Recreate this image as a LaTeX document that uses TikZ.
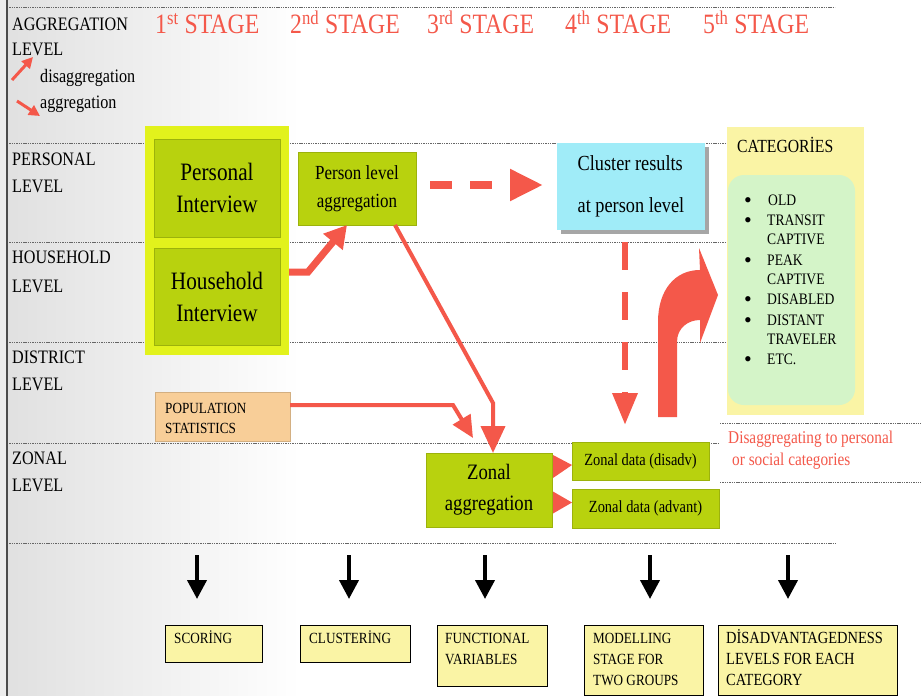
\documentclass[tikz,border=0pt]{standalone}
\usepackage{fontspec}
\usepackage{graphicx}
\setmainfont{Liberation Serif}
\usetikzlibrary{arrows.meta,calc}

\definecolor{redarrow}{RGB}{244,88,74}
\definecolor{limeouter}{RGB}{226,242,28}
\definecolor{limeinner}{RGB}{184,210,14}
\definecolor{skyfill}{RGB}{160,236,248}
\definecolor{peach}{RGB}{248,206,152}
\definecolor{paleyellow}{RGB}{250,244,165}
\definecolor{mintfill}{RGB}{212,244,200}

\newcommand\fsz[2]{\fontsize{#1}{#2}\selectfont}
% narrow setting of the serif face
\newcommand\cnd[1]{\scalebox{0.85}[1]{#1}}

\begin{document}
\begin{tikzpicture}[x=1pt,y=-1pt,
  gridline/.style={draw=black!60, line width=0.9pt, dash pattern=on 1.4pt off 0.9pt},
  panel/.style={inner sep=0pt, outer sep=0pt, align=center},
  lbl/.style={anchor=base west, inner sep=0pt, font=\fsz{19}{22}},
  stagehead/.style={anchor=base west, inner sep=0pt, text=redarrow, font=\fsz{28}{30}},
  catitem/.style={anchor=base west, inner sep=0pt, font=\fsz{16}{20}},
  smalltxt/.style={anchor=base west, inner sep=0pt, font=\fsz{15.5}{20}},
  redflow/.style={draw=redarrow, line join=miter},
  blackdown/.style={draw=black, line width=4pt, -{Triangle[length=19pt,width=19pt]}},
  lowbox/.style={panel, fill=paleyellow, draw=black, line width=1pt},
]
\useasboundingbox (0,0) rectangle (921,696);

% paper
\fill[white] (0,0) rectangle (921,696);
\fill[black!7] (0,0) rectangle (7,696);
\shade[left color=black!12, right color=white] (7,0) rectangle (300,696);

% level separators
\draw[gridline] (7,7) -- (835,7);
\draw[gridline] (7,143) -- (727,143);
\draw[gridline] (7,242) -- (727,242);
\draw[gridline] (7,342) -- (727,342);
\draw[gridline] (7,443) -- (718,443);
\draw[gridline] (720,423) -- (921,423);
\draw[gridline] (720,482) -- (921,482);
\draw[gridline] (7,543) -- (836,543);
\draw[black!70, line width=1.6pt] (7,0) -- (7,696);

% stage headings
\node[stagehead] (st1) at (155,34) {\cnd{1\textsuperscript{st} STAGE}};
\node[stagehead] (st2) at (290,34) {\cnd{2\textsuperscript{nd} STAGE}};
\node[stagehead] (st3) at (427,34) {\cnd{3\textsuperscript{rd} STAGE}};
\node[stagehead] (st4) at (565,34) {\cnd{4\textsuperscript{th} STAGE}};
\node[stagehead] (st5) at (703,34) {\cnd{5\textsuperscript{th} STAGE}};

% level labels
\node[lbl] (lagg) at (12,30) {\cnd{AGGREGATION}};
\node[lbl] (llev) at (12,55) {\cnd{LEVEL}};
\node[lbl, font=\fsz{19}{20}] (ldis) at (40,82) {\cnd{disaggregation}};
\node[lbl, font=\fsz{19}{20}] (lagr) at (40,108) {\cnd{aggregation}};
\coordinate (k1a) at (12,80);  \coordinate (k1b) at (33,57);
\coordinate (k2a) at (17,101); \coordinate (k2b) at (40,116);
\draw[redflow, line width=3pt, -{Triangle[length=11pt,width=11pt]}] (k1a) -- (k1b);
\draw[redflow, line width=3pt, -{Triangle[length=11pt,width=11pt]}] (k2a) -- (k2b);

\node[lbl] (lper) at (12,165) {\cnd{PERSONAL}};
\node[lbl] (lper2) at (12,192) {\cnd{LEVEL}};
\node[lbl] (lhou) at (12,263) {\cnd{HOUSEHOLD}};
\node[lbl] (lhou2) at (12,292) {\cnd{LEVEL}};
\node[lbl] (ldst) at (12,363) {\cnd{DISTRICT}};
\node[lbl] (ldst2) at (12,390) {\cnd{LEVEL}};
\node[lbl] (lzon) at (12,464) {\cnd{ZONAL}};
\node[lbl] (lzon2) at (12,491) {\cnd{LEVEL}};

% stage 1: interviews and statistics
\node[panel, fill=limeouter, minimum width=144pt, minimum height=229pt] (outer) at (217,240.5) {};
\node[panel, fill=limeinner, draw=limeinner!85!black, minimum width=126pt, minimum height=98pt,
      font=\fsz{25}{32}] (pint) at (217,188) {\cnd{Personal}\\\cnd{Interview}};
\node[panel, fill=limeinner, draw=limeinner!85!black, minimum width=126pt, minimum height=97pt,
      font=\fsz{25}{32}] (hint) at (217,296.5) {\cnd{Household}\\\cnd{Interview}};
\node[panel, fill=peach, draw=peach!85!black, minimum width=135pt, minimum height=49pt] (pop) at (222.5,416.5) {};
\node[smalltxt] (popa) at (165,413) {\cnd{POPULATION}};
\node[smalltxt] (popb) at (165,433) {\cnd{STATISTICS}};

% stage 2
\node[panel, fill=limeinner, draw=limeinner!85!black, minimum width=118pt, minimum height=73pt,
      font=\fsz{20}{28}] (pla) at (357,188.5) {\cnd{Person level}\\\cnd{aggregation}};

% stage 3
\node[panel, fill=limeinner, draw=limeinner!85!black, minimum width=126pt, minimum height=74pt,
      font=\fsz{22}{31}] (zag) at (489,490) {\cnd{Zonal}\\\cnd{aggregation}};

% stage 4
\fill[black!35] (561,147) rectangle (709,234);
\node[panel, fill=skyfill, align=left, minimum width=148pt, minimum height=87pt,
      font=\fsz{21.5}{42}] (clu) at (631,186.5) {\cnd{Cluster results}\\\cnd{at person level}};
\node[panel, fill=limeinner, draw=limeinner!85!black, minimum width=137pt, minimum height=38pt,
      font=\fsz{17}{20}] (zd1) at (640.5,461) {\cnd{Zonal data (disadv)}};
\node[panel, fill=limeinner, draw=limeinner!85!black, minimum width=147pt, minimum height=39pt,
      font=\fsz{17}{20}] (zd2) at (645.5,508.5) {\cnd{Zonal data (advant)}};

% stage 5: categories
\node[panel, fill=paleyellow, minimum width=137pt, minimum height=288pt] (catbox) at (795.5,271) {};
\node[panel, fill=mintfill, rounded corners=16pt, minimum width=127pt, minimum height=230pt] (catin) at (791.5,290) {};
\node[anchor=base west, inner sep=0pt, font=\fsz{18.5}{20}] (cathead) at (737,152) {\cnd{CATEGORİES}};
\node[catitem, font=\fsz{22}{20}] (b1) at (744,207) {\textbullet};
\node[catitem, font=\fsz{22}{20}] (b2) at (744,227) {\textbullet};
\node[catitem, font=\fsz{22}{20}] (b3) at (744,267) {\textbullet};
\node[catitem, font=\fsz{22}{20}] (b4) at (744,306) {\textbullet};
\node[catitem, font=\fsz{22}{20}] (b5) at (744,327) {\textbullet};
\node[catitem, font=\fsz{22}{20}] (b6) at (744,366) {\textbullet};
\node[catitem] (c1) at (768,205) {\cnd{OLD}};
\node[catitem] (c2) at (767,225) {\cnd{TRANSIT}};
\node[catitem] (c3) at (767,244) {\cnd{CAPTIVE}};
\node[catitem] (c4) at (767,265) {\cnd{PEAK}};
\node[catitem] (c5) at (767,284) {\cnd{CAPTIVE}};
\node[catitem] (c6) at (767,304) {\cnd{DISABLED}};
\node[catitem] (c7) at (767,325) {\cnd{DISTANT}};
\node[catitem] (c8) at (767,344) {\cnd{TRAVELER}};
\node[catitem] (c9) at (767,364) {\cnd{ETC.}};

\node[anchor=base west, inner sep=0pt, text=redarrow, font=\fsz{18}{22}] (dg1) at (728,443) {\cnd{Disaggregating to personal}};
\node[anchor=base west, inner sep=0pt, text=redarrow, font=\fsz{18}{22}] (dg2) at (732,465) {\cnd{or social categories}};

% flows between stages
\draw[redflow, line width=7pt, -{Triangle[length=22pt,width=24pt]}]
  (outer.east |- 0,272) -- (308,272) -- ($(pla.south)+(-10,0)$);
\draw[redflow, line width=4pt, -{Triangle[length=27pt,width=24pt]}]
  ($(pla.south)+(38,0)$) -- (493,403) -- ($(zag.north)+(4,0)$);
\draw[redflow, line width=4pt, -{Triangle[length=22pt,width=20pt]}]
  (pop.east |- 0,405) -- (453,405) -- ($(zag.north west)+(47,-15)$);
\draw[redflow, line width=8pt, dash pattern=on 22pt off 18pt, -{Triangle[length=33pt,width=30pt]}]
  ($(pla.east)+(14,-3.5)$) -- ($(clu.west)+(-14,-1.5)$);
\draw[redflow, line width=6.5pt, dash pattern=on 28pt off 22pt, -{Triangle[length=32pt,width=24pt]}]
  ($(clu.south)+(-6,12)$) -- ($(zd1.north)+(-15.5,-17)$);
\fill[redarrow] ($(zd1.west)+(-19,-6)$) -- ($(zd1.west)+(0,4)$) -- ($(zd1.west)+(-19,17)$) -- cycle;
\fill[redarrow] ($(zd2.west)+(-19,-17)$) -- ($(zd2.west)+(0,-6)$) -- ($(zd2.west)+(-19,5)$) -- cycle;

% bent arrow towards the categories
\fill[redarrow] (658,417) -- (658,322) .. controls (658,290) and (675,270) .. (700,270)
  -- (699,248) -- (718,295) -- (700,343) -- (700,320)
  .. controls (688,320) and (677,328) .. (677,342) -- (677,417) -- cycle;

% outputs of each stage
\node[lowbox, minimum width=97pt, minimum height=37pt] (sc) at (213.5,643.5) {};
\node[lowbox, minimum width=110pt, minimum height=37pt] (cl) at (355,643.5) {};
\node[lowbox, minimum width=110pt, minimum height=61pt] (fv) at (492,655.5) {};
\node[lowbox, minimum width=119pt, minimum height=70pt] (mo) at (643.5,660) {};
\node[lowbox, minimum width=179pt, minimum height=70pt] (di) at (807.5,660) {};

\node[smalltxt] (sct) at (174,643) {\cnd{SCORİNG}};
\node[smalltxt] (clt) at (309,643) {\cnd{CLUSTERİNG}};
\node[smalltxt] (fvt1) at (445,643) {\cnd{FUNCTIONAL}};
\node[smalltxt] (fvt2) at (445,664) {\cnd{VARIABLES}};
\node[smalltxt] (mot1) at (593,643) {\cnd{MODELLING}};
\node[smalltxt] (mot2) at (593,664) {\cnd{STAGE FOR}};
\node[smalltxt] (mot3) at (593,685) {\cnd{TWO GROUPS}};
\node[smalltxt, font=\fsz{17}{20}] (dit1) at (726,643) {\cnd{DİSADVANTAGEDNESS}};
\node[smalltxt, font=\fsz{17}{20}] (dit2) at (726,664) {\cnd{LEVELS FOR EACH}};
\node[smalltxt, font=\fsz{17}{20}] (dit3) at (726,685) {\cnd{CATEGORY}};

\coordinate (d1a) at (197,555); \coordinate (d1b) at (197,599);
\coordinate (d2a) at (349,555); \coordinate (d2b) at (349,599);
\coordinate (d3a) at (485,555); \coordinate (d3b) at (485,599);
\coordinate (d4a) at (650,555); \coordinate (d4b) at (650,599);
\coordinate (d5a) at (788,555); \coordinate (d5b) at (788,599);
\draw[blackdown] (d1a) -- (d1b);
\draw[blackdown] (d2a) -- (d2b);
\draw[blackdown] (d3a) -- (d3b);
\draw[blackdown] (d4a) -- (d4b);
\draw[blackdown] (d5a) -- (d5b);
\end{tikzpicture}
\end{document}
